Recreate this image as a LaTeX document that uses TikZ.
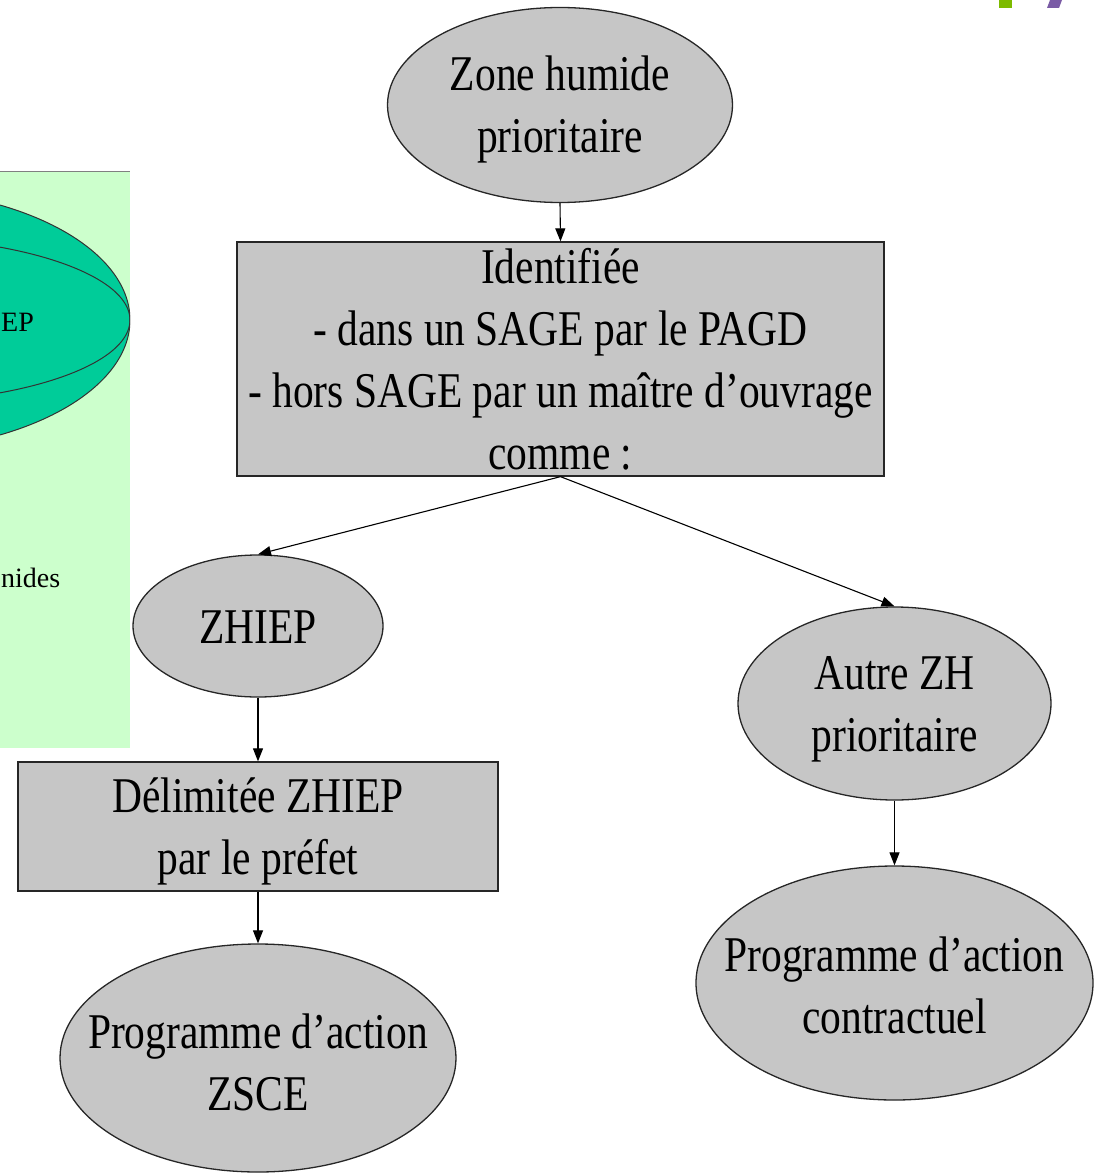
\documentclass[tikz,border=0pt]{standalone}
\usepackage{fontspec}
\setmainfont[FakeStretch=0.83]{Liberation Serif}
\newfontfamily\plainserif{Liberation Serif}
\usetikzlibrary{shapes.geometric,arrows.meta}
\definecolor{shapegray}{RGB}{198,198,198}
\definecolor{panelgreen}{RGB}{204,255,204}
\definecolor{tealfill}{RGB}{0,204,153}
\definecolor{markgreen}{RGB}{125,187,0}
\definecolor{markpurple}{RGB}{122,91,165}
\tikzset{
  ovalbox/.style={ellipse, draw=black!85, line width=1.3pt, fill=shapegray, inner sep=0pt},
  rectbox/.style={rectangle, draw=black!85, line width=1.3pt, fill=shapegray, inner sep=0pt},
  bigtext/.style={font=\fontsize{50}{62}\selectfont, align=center, inner sep=0pt},
  arr/.style={draw=black, line width=1.1pt, -{Triangle[length=13pt,width=10pt]}},
  paneltext/.style={font=\plainserif\fontsize{28}{32}\selectfont, inner sep=0pt}
}
\begin{document}
\begin{tikzpicture}[x=1pt,y=-1pt]
\useasboundingbox (0,0) rectangle (1106,1174);
% left panel (cut off)
\fill[panelgreen] (0,172) rectangle (130,748);
\draw[gray, line width=1pt] (0,172) -- (130,172);
\begin{scope}
  \clip (0,172) rectangle (130,748);
  \draw[fill=tealfill, draw=black!80, line width=1pt] (-120,320) ellipse [x radius=250, y radius=131];
  \draw[draw=black!80, line width=1pt] (-120,320) ellipse [x radius=250, y radius=83];
\end{scope}
\node[paneltext, anchor=west] (ep) at (1,322) {EP};
\node[paneltext, anchor=west] (nides) at (1,578) {nides};
% top-right marks
\fill[markgreen] (999,0) rectangle (1012,8);
\fill[markpurple] (1047,8) -- (1050,0) -- (1062,0) -- (1059,8) -- cycle;
% shapes
\node[ovalbox, minimum width=345, minimum height=195] (zh) at (560,105) {};
\node[bigtext, yshift=-4pt] (zht) at (zh.center) {Zone humide\\prioritaire};
\node[rectbox, minimum width=647, minimum height=234] (id) at (560.5,359) {};
\node[bigtext] (idt) at (id.center) {Identifiée\\- dans un SAGE par le PAGD\\- hors SAGE par un maître d’ouvrage\\comme :};
\node[ovalbox, minimum width=250, minimum height=142] (zhiep) at (258,626) {};
\node[bigtext, yshift=-1pt] (zhiept) at (zhiep.center) {ZHIEP};
\node[ovalbox, minimum width=313, minimum height=193] (autre) at (894.5,703.5) {};
\node[bigtext, yshift=-6pt] (autret) at (autre.center) {Autre ZH\\prioritaire};
\node[rectbox, minimum width=480, minimum height=129] (delim) at (258,826.5) {};
\node[bigtext, yshift=-5pt] (delimt) at (delim.center) {Délimitée ZHIEP\\par le préfet};
\node[ovalbox, minimum width=396, minimum height=228] (zsce) at (258,1058) {};
\node[bigtext, yshift=-4pt] (zscet) at (zsce.center) {Programme d’action\\ZSCE};
\node[ovalbox, minimum width=397, minimum height=234] (contr) at (894.5,983) {};
\node[bigtext, yshift=-2pt] (contrt) at (contr.center) {Programme d’action\\contractuel};
% connectors
\draw[arr] (zh.south) -- (id.north);
\draw[arr] (id.south) -- (zhiep.north);
\draw[arr] (id.south) -- (autre.north);
\draw[arr] (zhiep.south) -- (delim.north);
\draw[arr] (delim.south) -- (zsce.north);
\draw[arr] (autre.south) -- (contr.north);
\end{tikzpicture}
\end{document}
